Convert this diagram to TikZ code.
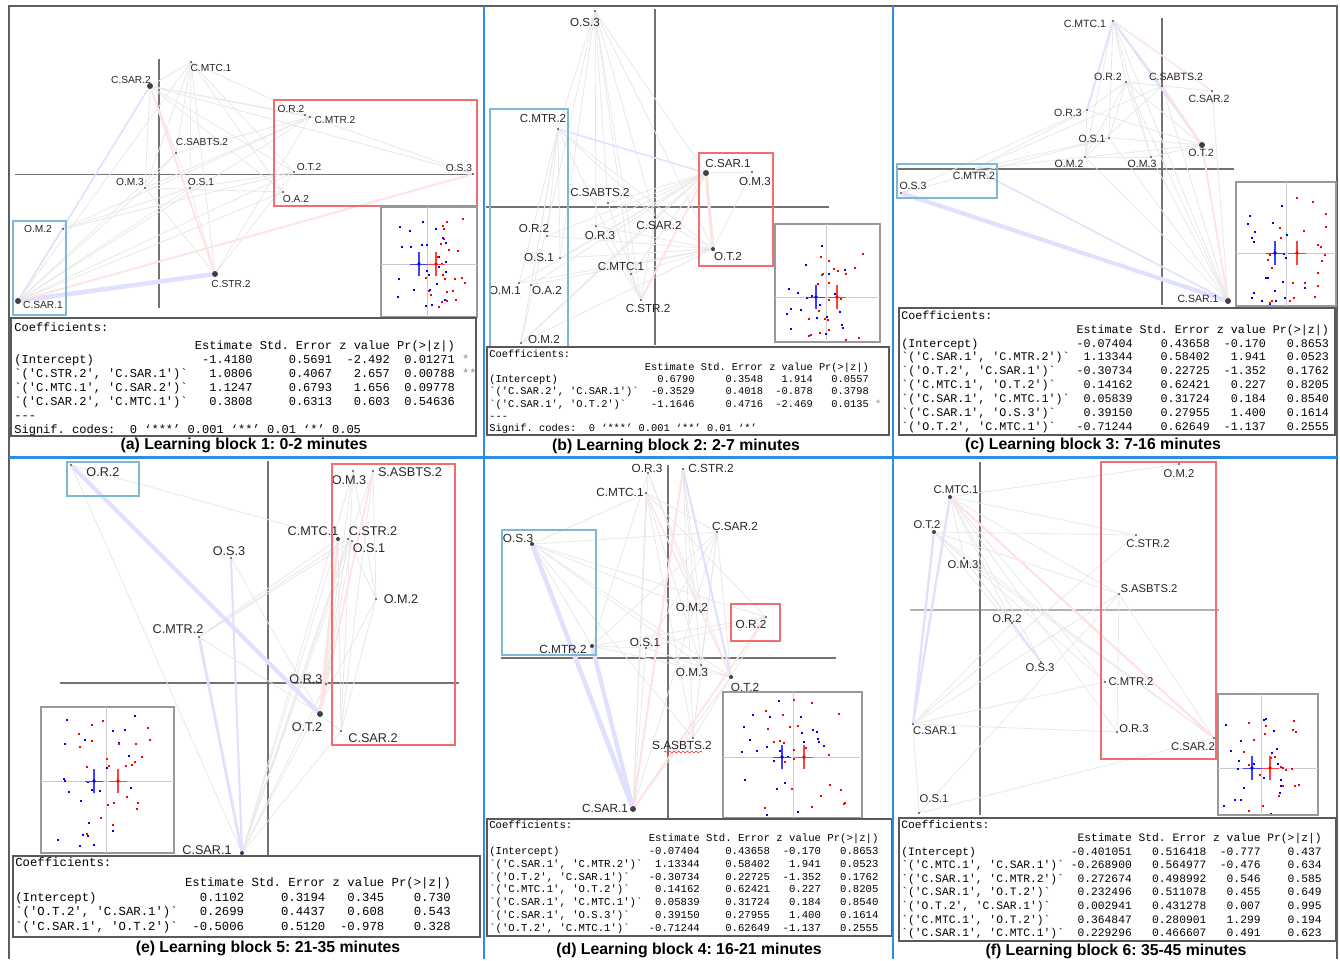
\documentclass[tikz,border=0pt]{standalone}
\usepackage{fontspec}
\setmainfont{Liberation Sans}
\setmonofont{Liberation Mono}
\usepackage{array}
\usetikzlibrary{backgrounds}
\usetikzlibrary{decorations.pathmorphing}
\frenchspacing
\newcolumntype{R}{@{\hspace{.6em}}r}
\newcolumntype{Q}{@{}lRRRR@{\hspace{.6em}}l@{}}
\definecolor{sepblue}{RGB}{45,140,230}
\definecolor{boxred}{RGB}{240,110,110}
\definecolor{boxblue}{RGB}{125,185,215}
\definecolor{framegray}{RGB}{95,95,95}
\tikzset{
  axisline/.style={draw=black!55, line width=0.6pt},
  edgeline/.style={draw=black!9, line width=0.45pt},
  lavlink/.style={draw=blue!12, line width=#1},
  pinklink/.style={draw=red!11, line width=#1},
  smalldot/.style={circle, fill=black!70, inner sep=0pt, minimum size=1.2pt},
  middot/.style={circle, fill=black!75, inner sep=0pt, minimum size=2.3pt},
  bigdot/.style={circle, fill=black!75, inner sep=0pt, minimum size=3.4pt},
  lblsize/.style={lbl/.style={font=\fontsize{#1}{#1}\selectfont, inner sep=0pt, text=black!85}},
  redbox/.style={draw=boxred, line width=0.7pt},
  bluebox/.style={draw=boxblue, line width=0.7pt},
  tabframe/.style={draw=black!65, line width=0.6pt, fill=white},
  coeftab/.style 2 args={font=\ttfamily\fontsize{#1}{#2}\selectfont, inner sep=0pt, anchor=north west},
  subcap/.style={font=\bfseries\fontsize{9}{10}\selectfont, inner sep=0pt},
}
% inset: corners, cross height, blue x, red x, seed
\newcommand{\insetplot}[8]{%
  \draw[black!40, line width=0.7pt, fill=white] (#1,#2) rectangle (#3,#4);
  \draw[black!20, line width=0.5pt] ({(#6+#7)/2},#2) -- ({(#6+#7)/2},#4) (#1,#5) -- (#3,#5);
  \begin{scope}
    \clip (#1+2,#2+2) rectangle (#3-2,#4-2);
    \pgfmathsetseed{#8}
    \foreach \k in {1,...,24}{
      \pgfmathsetmacro{\px}{#6+0.3*(#3-#1)*rand}
      \pgfmathsetmacro{\py}{#5+0.46*(#4-#2)*rand}
      \fill[blue] (\px,\py) rectangle ++(2,2);
      \pgfmathsetmacro{\qx}{#7+0.3*(#3-#1)*rand}
      \pgfmathsetmacro{\qy}{#5+0.46*(#4-#2)*rand}
      \fill[red] (\qx,\qy) rectangle ++(2,2);
    }
  \end{scope}
  \draw[blue!75, line width=0.9pt] (#6,#5-12) -- (#6,#5+12);
  \draw[blue!75, line width=0.5pt] (#6-9,#5) -- (#6+9,#5);
  \draw[red!75, line width=0.9pt] (#7,#5-12) -- (#7,#5+12);
  \draw[red!75, line width=0.5pt] (#7-9,#5) -- (#7+9,#5);
  \fill[blue] (#6,#5) circle (1.8);
  \fill[red] (#7,#5) circle (1.8);
}
\newcommand{\coefhead}{\multicolumn{6}{@{}l@{}}{Coefficients:}}
\newcommand{\colhead}{ & Estimate & Std.~Error & z~value & Pr(>|z|) & }
\newcommand{\coefcd}{%
(Intercept) & -0.07404 & 0.43658 & -0.170 & 0.8653\\
`('C.SAR.1',~'C.MTR.2')` & 1.13344 & 0.58402 & 1.941 & 0.0523\\
`('O.T.2',~'C.SAR.1')` & -0.30734 & 0.22725 & -1.352 & 0.1762\\
`('C.MTC.1',~'O.T.2')` & 0.14162 & 0.62421 & 0.227 & 0.8205\\
`('C.SAR.1',~'C.MTC.1')` & 0.05839 & 0.31724 & 0.184 & 0.8540\\
`('C.SAR.1',~'O.S.3')` & 0.39150 & 0.27955 & 1.400 & 0.1614\\
`('O.T.2',~'C.MTC.1')` & -0.71244 & 0.62649 & -1.137 & 0.2555}

\begin{document}
\begin{tikzpicture}[x=0.02cm, y=-0.02cm]
\useasboundingbox (0,0) rectangle (1340,961);
\draw[framegray, line width=0.8pt] (9,959) -- (9,6) -- (1337,6) -- (1337,959);

% (a) learning block 1
\begin{scope}[lblsize=5.8]
\node[bigdot] (a-sar2) at (150,86) {};
\node[smalldot] (a-mtc1) at (191,62) {};
\node[smalldot] (a-sabts) at (176,153) {};
\node[smalldot] (a-or2) at (305,115) {};
\node[smalldot] (a-mtr2) at (310,117) {};
\node[smalldot] (a-ot2) at (294,172) {};
\node[smalldot] (a-os3) at (473,174) {};
\node[smalldot] (a-om3) at (145,188) {};
\node[smalldot] (a-os1) at (190,188) {};
\node[smalldot] (a-oa2) at (283,192) {};
\node[smalldot] (a-om2) at (63,229) {};
\node[bigdot] (a-str2) at (215,274) {};
\node[bigdot] (a-sar1) at (18,301) {};
\begin{scope}[on background layer]
\draw[axisline] (15,174.5) -- (473,174.5);
\draw[axisline] (159,59) -- (159,308);
\foreach \u/\v in {sar1/sar2,sar1/mtc1,sar1/sabts,sar1/om3,sar1/os1,sar1/mtr2,sar1/ot2,sar1/oa2,sar1/om2,
  sar2/mtc1,sar2/om3,sar2/os1,sar2/mtr2,sar2/or2,sar2/ot2,sar2/os3,sar2/oa2,sar2/sabts,
  mtc1/om3,mtc1/os1,mtc1/str2,mtc1/ot2,mtc1/mtr2,mtc1/sabts,mtc1/oa2,str2/mtr2,str2/ot2,str2/om3,str2/os1,
  om2/mtr2,om2/ot2,om2/os1,om3/oa2,om3/mtr2,om3/sabts,os1/ot2,or2/os3,sabts/mtr2}
  \draw[edgeline] (a-\u) -- (a-\v);
\draw[lavlink=2.6pt] (a-sar1) -- (a-str2);
\draw[lavlink=0.9pt] (a-sar1) -- (a-sar2);
\draw[pinklink=1.1pt] (a-sar1) -- (a-os3);
\draw[pinklink=1.1pt] (a-sar2) -- (a-str2);
\end{scope}
\node[lbl] (a-sar2-t) at (131,80) {C.SAR.2};
\node[lbl] (a-mtc1-t) at (211,68) {C.MTC.1};
\node[lbl] (a-sabts-t) at (202,142) {C.SABTS.2};
\node[lbl] (a-or2-t) at (291,109) {O.R.2};
\node[lbl] (a-mtr2-t) at (335,120) {C.MTR.2};
\node[lbl] (a-ot2-t) at (309,167) {O.T.2};
\node[lbl] (a-os3-t) at (459,168) {O.S.3};
\node[lbl] (a-om3-t) at (130,182) {O.M.3};
\node[lbl] (a-os1-t) at (201,182) {O.S.1};
\node[lbl] (a-oa2-t) at (296,199) {O.A.2};
\node[lbl] (a-om2-t) at (38,229) {O.M.2};
\node[lbl] (a-str2-t) at (231,284) {C.STR.2};
\node[lbl] (a-sar1-t) at (43,305) {C.SAR.1};
\draw[redbox] (274,100) rectangle (477,206);
\draw[bluebox] (13,221) rectangle (66,315);
\insetplot{381}{207}{477}{317}{264}{419}{436}{11}
\draw[tabframe] (11,318) rectangle (476,436);
\node[coeftab={6.85}{7.95}] (a-tab) at (14,321) {\begin{tabular}{Q}
\coefhead\\[2.5pt]
\colhead\\
(Intercept) & -1.4180 & 0.5691 & -2.492 & 0.01271 & \textcolor{black!45}{*}\\
`('C.STR.2',~'C.SAR.1')` & 1.0806 & 0.4067 & 2.657 & 0.00788 & \textcolor{black!45}{**}\\
`('C.MTC.1',~'C.SAR.2')` & 1.1247 & 0.6793 & 1.656 & 0.09778 & \\
`('C.SAR.2',~'C.MTC.1')` & 0.3808 & 0.6313 & 0.603 & 0.54636 & \\
\multicolumn{6}{@{}l@{}}{---}\\
\multicolumn{6}{@{}l@{}}{Signif.~codes:~~0~‘***’~0.001~‘**’~0.01~‘*’~0.05}
\end{tabular}};
\node[subcap] (a-cap) at (244,445) {(a) Learning block 1: 0-2 minutes};
\end{scope}

% (b) learning block 2
\begin{scope}[lblsize=6.6]
\node[smalldot] (b-os3) at (595,11) {};
\node[smalldot] (b-mtr2) at (558,129) {};
\node[bigdot] (b-sar1) at (706,173) {};
\node[smalldot] (b-om3) at (752,172) {};
\node[smalldot] (b-sabts) at (608,203) {};
\node[smalldot] (b-or2) at (547,236) {};
\node[smalldot] (b-or3) at (596,226) {};
\node[smalldot] (b-sar2) at (655,217) {};
\node[middot] (b-ot2) at (713,249) {};
\node[smalldot] (b-os1) at (560,258) {};
\node[smalldot] (b-om1) at (519,283) {};
\node[smalldot] (b-oa2) at (531,285) {};
\node[smalldot] (b-mtc1) at (631,274) {};
\node[smalldot] (b-str2) at (641,300) {};
\node[smalldot] (b-om2) at (521,343) {};
\begin{scope}[on background layer]
\draw[axisline] (486,207) -- (829,207);
\draw[axisline] (655,9) -- (655,345);
\foreach \u/\v in {os3/mtr2,os3/sabts,os3/sar2,os3/sar1,os3/mtc1,os3/str2,os3/or3,os3/os1,os3/om2,os3/ot2,
  mtr2/or2,mtr2/os1,mtr2/om1,mtr2/oa2,mtr2/om2,mtr2/str2,mtr2/sar2,mtr2/ot2,
  sar1/sar2,sar1/om3,sar1/sabts,sar1/or2,sar1/or3,sar1/os1,sar1/om1,sar1/oa2,sar1/mtc1,
  ot2/sar2,ot2/or3,ot2/or2,ot2/om1,ot2/os1,ot2/oa2,ot2/mtc1,ot2/om3,
  str2/mtc1,str2/sabts,str2/or3,str2/sar2,om2/sar2,om2/ot2,om2/sar1}
  \draw[edgeline] (b-\u) -- (b-\v);
\draw[pinklink=1.8pt] (b-sar1) -- (b-ot2);
\draw[lavlink=0.9pt] (b-mtr2) -- (b-sar1);
\draw[pinklink=1.1pt] (b-str2) -- (b-sar1);
\end{scope}
\node[lbl] (b-os3-t) at (585,23) {O.S.3};
\node[lbl] (b-mtr2-t) at (543,119) {C.MTR.2};
\node[lbl] (b-sar1-t) at (728,164) {C.SAR.1};
\node[lbl] (b-om3-t) at (755,182) {O.M.3};
\node[lbl] (b-sabts-t) at (600,193) {C.SABTS.2};
\node[lbl] (b-or2-t) at (534,229) {O.R.2};
\node[lbl] (b-or3-t) at (600,236) {O.R.3};
\node[lbl] (b-sar2-t) at (659,226) {C.SAR.2};
\node[lbl] (b-ot2-t) at (728,257) {O.T.2};
\node[lbl] (b-os1-t) at (539,258) {O.S.1};
\node[lbl] (b-om1-t) at (505,291) {O.M.1};
\node[lbl] (b-oa2-t) at (547,291) {O.A.2};
\node[lbl] (b-mtc1-t) at (621,267) {C.MTC.1};
\node[lbl] (b-str2-t) at (648,308) {C.STR.2};
\node[lbl] (b-om2-t) at (544,340) {O.M.2};
\draw[redbox] (699,153) rectangle (773,266);
\draw[bluebox] (490,109) rectangle (568,347);
\insetplot{775}{224}{880}{342}{297}{816}{837}{22}
\draw[tabframe] (487,347) rectangle (889,435);
\node[coeftab={5.9}{7}] (b-tab) at (489,349) {\begin{tabular}{Q}
\coefhead\\
\colhead\\
(Intercept) & 0.6790 & 0.3548 & 1.914 & 0.0557 & \\
`('C.SAR.2',~'C.SAR.1')` & -0.3529 & 0.4018 & -0.878 & 0.3798 & \\
`('C.SAR.1',~'O.T.2')` & -1.1646 & 0.4716 & -2.469 & 0.0135 & \textcolor{black!45}{*}\\
\multicolumn{6}{@{}l@{}}{---}\\
\multicolumn{6}{@{}l@{}}{Signif.~codes:~~0~‘***’~0.001~‘**’~0.01~‘*’}
\end{tabular}};
\node[subcap] (b-cap) at (676,446) {(b) Learning block 2: 2-7 minutes};
\end{scope}

% (c) learning block 3
\begin{scope}[lblsize=6]
\node[smalldot] (c-mtc1) at (1113,21) {};
\node[smalldot] (c-or2) at (1126,82) {};
\node[smalldot] (c-sabts) at (1162,86) {};
\node[smalldot] (c-sar2) at (1212,91) {};
\node[smalldot] (c-or3) at (1087,110) {};
\node[smalldot] (c-os1) at (1109,138) {};
\node[bigdot] (c-ot2) at (1202,145) {};
\node[smalldot] (c-om2) at (1085,157) {};
\node[smalldot] (c-om3) at (1151,157) {};
\node[smalldot] (c-mtr2) at (974,169) {};
\node[smalldot] (c-os3) at (901,193) {};
\node[bigdot] (c-sar1) at (1228,301) {};
\begin{scope}[on background layer]
\draw[axisline] (896,169) -- (1234,169);
\draw[axisline] (1162,18) -- (1162,305);
\foreach \u/\v in {mtc1/os1,mtc1/om2,mtc1/om3,mtc1/sar1,mtc1/sabts,mtc1/or2,
  or2/or3,or2/os1,or2/sabts,or2/om2,or2/ot2,or2/om3,or2/sar2,
  sar1/sar2,sar1/om3,sar1/om2,sar1/os1,sar1/sabts,sar1/or2,
  ot2/or3,ot2/os1,ot2/om2,ot2/om3,mtr2/or3,mtr2/os1,mtr2/om2,mtr2/sabts,
  os3/or3,os3/os1,om2/om3,om2/or3,om2/sabts}
  \draw[edgeline] (c-\u) -- (c-\v);
\draw[lavlink=2.4pt] (c-os3) -- (c-sar1);
\draw[lavlink=1.2pt] (c-mtc1) -- (c-ot2);
\draw[lavlink=1.1pt] (c-mtc1) -- (c-or3);
\draw[lavlink=0.9pt] (c-sar1) -- (c-mtr2);
\draw[pinklink=1.2pt] (c-sabts) -- (c-ot2);
\draw[pinklink=1pt] (c-sar1) -- (c-ot2);
\draw[pinklink=0.8pt] (c-mtc1) -- (c-sar2);
\end{scope}
\node[lbl] (c-mtc1-t) at (1085,24) {C.MTC.1};
\node[lbl] (c-or2-t) at (1108,77) {O.R.2};
\node[lbl] (c-sabts-t) at (1176,77) {C.SABTS.2};
\node[lbl] (c-sar2-t) at (1209,99) {C.SAR.2};
\node[lbl] (c-or3-t) at (1068,113) {O.R.3};
\node[lbl] (c-os1-t) at (1092,139) {O.S.1};
\node[lbl] (c-ot2-t) at (1201,153) {O.T.2};
\node[lbl] (c-om2-t) at (1069,164) {O.M.2};
\node[lbl] (c-om3-t) at (1142,164) {O.M.3};
\node[lbl] (c-mtr2-t) at (974,176) {C.MTR.2};
\node[lbl] (c-os3-t) at (913,186) {O.S.3};
\node[lbl] (c-sar1-t) at (1198,299) {C.SAR.1};
\draw[bluebox] (897,164) rectangle (997,198);
\insetplot{1236}{182}{1336}{306}{253}{1275}{1297}{33}
\draw[tabframe] (899,308) rectangle (1335,435);
\node[coeftab={6.65}{7.94}] (c-tab) at (901,309) {\begin{tabular}{Q}
\coefhead\\
\colhead\\
\coefcd
\end{tabular}};
\node[subcap] (c-cap) at (1093,445) {(c) Learning block 3: 7-16 minutes};
\end{scope}

% (e) learning block 5
\begin{scope}[lblsize=7.2]
\node[smalldot] (e-or2) at (71,465) {};
\node[smalldot] (e-om3) at (353,471) {};
\node[smalldot] (e-sasb) at (373,471) {};
\node[middot] (e-mtc1) at (338,539) {};
\node[smalldot] (e-str2) at (348,539) {};
\node[smalldot] (e-os1) at (352,541) {};
\node[smalldot] (e-os3) at (231,558) {};
\node[smalldot] (e-om2) at (376,599) {};
\node[smalldot] (e-mtr2) at (199,637) {};
\node[smalldot] (e-or3) at (326,684) {};
\node[bigdot] (e-ot2) at (320,714) {};
\node[smalldot] (e-sar2) at (341,731) {};
\node[middot] (e-sar1) at (242,853) {};
\begin{scope}[on background layer]
\draw[axisline] (60,683) -- (459,683);
\draw[axisline] (268,461) -- (268,855);
\foreach \u/\v in {or2/mtc1,or2/sar1,os3/ot2,mtr2/mtc1,mtr2/os1,mtr2/ot2,mtr2/str2,
  sar1/mtc1,sar1/str2,sar1/os1,sar1/om3,sar1/sasb,sar1/sar2,sar1/om2,sar1/or3,
  ot2/om3,ot2/str2,ot2/os1,ot2/sar2,sar2/om3,sar2/sasb,sar2/mtc1,sar2/om2,om2/sasb,om2/str2,om2/om3}
  \draw[edgeline] (e-\u) -- (e-\v);
\draw[lavlink=2.4pt] (e-or2) -- (e-ot2);
\draw[lavlink=1.6pt] (e-mtr2) -- (e-sar1);
\draw[lavlink=1.2pt] (e-os3) -- (e-sar1);
\draw[pinklink=1.5pt] (e-ot2) -- (e-mtc1);
\draw[pinklink=1pt] (e-sasb) -- (e-ot2);
\end{scope}
\node[lbl] (e-or2-t) at (103,472) {O.R.2};
\node[lbl] (e-om3-t) at (349,480) {O.M.3};
\node[lbl] (e-sasb-t) at (410,472) {S.ASBTS.2};
\node[lbl] (e-mtc1-t) at (313,531) {C.MTC.1};
\node[lbl] (e-str2-t) at (373,531) {C.STR.2};
\node[lbl] (e-os1-t) at (369,548) {O.S.1};
\node[lbl] (e-os3-t) at (229,551) {O.S.3};
\node[lbl] (e-om2-t) at (401,599) {O.M.2};
\node[lbl] (e-mtr2-t) at (178,629) {C.MTR.2};
\node[lbl] (e-or3-t) at (306,679) {O.R.3};
\node[lbl] (e-ot2-t) at (307,727) {O.T.2};
\node[lbl] (e-sar2-t) at (373,738) {C.SAR.2};
\node[lbl] (e-sar1-t) at (207,850) {C.SAR.1};
\draw[bluebox] (67,462) rectangle (139,496);
\draw[redbox] (332,464) rectangle (455,745);
\insetplot{41}{707}{174}{853}{781}{94}{118}{44}
\draw[tabframe] (13,856) rectangle (480,937);
\node[coeftab={7}{8.3}] (e-tab) at (15,856) {\begin{tabular}{Q}
\coefhead\\[3pt]
\colhead\\
(Intercept) & 0.1102 & 0.3194 & 0.345 & 0.730\\
`('O.T.2',~'C.SAR.1')` & 0.2699 & 0.4437 & 0.608 & 0.543\\
`('C.SAR.1',~'O.T.2')` & -0.5006 & 0.5120 & -0.978 & 0.328
\end{tabular}};
\node[subcap] (e-cap) at (268,948) {(e) Learning block 5: 21-35 minutes};
\end{scope}

% (d) learning block 4
\begin{scope}[lblsize=6.7]
\node[smalldot] (d-or3) at (648,473) {};
\node[smalldot] (d-str2) at (683,469) {};
\node[smalldot] (d-mtc1) at (646,493) {};
\node[smalldot] (d-sar2) at (717,532) {};
\node[middot] (d-os3) at (532,544) {};
\node[smalldot] (d-om2) at (701,612) {};
\node[smalldot] (d-or2) at (766,617) {};
\node[middot] (d-mtr2) at (592,646) {};
\node[smalldot] (d-os1) at (646,648) {};
\node[smalldot] (d-om3) at (701,665) {};
\node[middot] (d-ot2) at (731,677) {};
\node[smalldot] (d-sasb) at (693,738) {};
\node[bigdot] (d-sar1) at (633,809) {};
\begin{scope}[on background layer]
\draw[axisline] (501,658) -- (836,658);
\draw[axisline] (668,465) -- (668,818);
\foreach \u/\v in {os3/mtc1,os3/sar2,os3/or2,os3/ot2,os3/om3,os3/sasb,os3/om2,os3/mtr2,
  mtr2/sar2,mtr2/or3,mtr2/ot2,mtr2/or2,mtr2/os1,mtc1/sar1,mtc1/or2,mtc1/sasb,mtc1/om3,mtc1/sar2,
  str2/om2,str2/om3,str2/sasb,sar2/sar1,sar2/sasb,sar2/os1,sar2/ot2,sar2/om3,
  or2/ot2,or2/os1,or3/sar1,or3/ot2,or3/om2,ot2/sar1,ot2/sasb,os1/sar1,os1/ot2}
  \draw[edgeline] (d-\u) -- (d-\v);
\draw[lavlink=2.6pt] (d-os3) -- (d-sar1);
\draw[lavlink=2.4pt] (d-mtr2) -- (d-sar1);
\draw[lavlink=1.2pt] (d-str2) -- (d-ot2);
\draw[pinklink=1.2pt] (d-sar1) -- (d-str2);
\draw[pinklink=1pt] (d-or2) -- (d-sar1);
\draw[pinklink=0.8pt] (d-mtc1) -- (d-ot2);
\end{scope}
\node[lbl] (d-or3-t) at (647,468) {O.R.3};
\node[lbl] (d-str2-t) at (711,468) {C.STR.2};
\node[lbl] (d-mtc1-t) at (620,492) {C.MTC.1};
\node[lbl] (d-sar2-t) at (735,526) {C.SAR.2};
\node[lbl] (d-os3-t) at (518,538) {O.S.3};
\node[lbl] (d-om2-t) at (692,607) {O.M.2};
\node[lbl] (d-or2-t) at (751,624) {O.R.2};
\node[lbl] (d-mtr2-t) at (563,649) {C.MTR.2};
\node[lbl] (d-os1-t) at (645,642) {O.S.1};
\node[lbl] (d-om3-t) at (692,672) {O.M.3};
\node[lbl] (d-ot2-t) at (745,687) {O.T.2};
\node[lbl] (d-sasb-t) at (682,745) {S.ASBTS.2};
\node[lbl] (d-sar1-t) at (605,808) {C.SAR.1};
\draw[red!80, line width=0.35pt, decorate, decoration={snake, amplitude=0.5pt, segment length=2.5pt}] (664,752) -- (702,752);
\draw[bluebox] (502,530) rectangle (596,655);
\draw[redbox] (731,604) rectangle (780,641);
\insetplot{723}{692}{862}{818}{757}{782}{804}{55}
\draw[tabframe] (487,819) rectangle (892,936);
\node[coeftab={6.05}{7.3}] (d-tab) at (489,819.5) {\begin{tabular}{Q}
\coefhead\\
\colhead\\
\coefcd
\end{tabular}};
\node[subcap] (d-cap) at (689,950) {(d) Learning block 4: 16-21 minutes};
\end{scope}

% (f) learning block 6
\begin{scope}[lblsize=6.4]
\node[middot] (f-mtc1) at (950,497) {};
\node[middot] (f-ot2) at (934,532) {};
\node[smalldot] (f-om3) at (964,558) {};
\node[smalldot] (f-om2) at (1179,464) {};
\node[smalldot] (f-str2) at (1136,535) {};
\node[smalldot] (f-sasb) at (1119,594) {};
\node[smalldot] (f-or2) at (1012,623) {};
\node[smalldot] (f-os3) at (1041,662) {};
\node[smalldot] (f-mtr2) at (1105,682) {};
\node[smalldot] (f-sar1) at (913,724) {};
\node[smalldot] (f-or3) at (1117,732) {};
\node[smalldot] (f-sar2) at (1214,738) {};
\node[smalldot] (f-os1) at (919,813) {};
\begin{scope}[on background layer]
\draw[axisline, draw=black!30] (910,610) -- (1219,610);
\draw[axisline] (980,462) -- (980,815);
\foreach \u/\v in {mtc1/om2,mtc1/str2,mtc1/sasb,mtc1/mtr2,mtc1/or3,mtc1/os3,mtc1/or2,mtc1/om3,
  ot2/str2,ot2/sasb,ot2/mtr2,ot2/sar2,ot2/os3,ot2/om3,om3/or2,om3/os3,om3/sar2,
  sar1/str2,sar1/sasb,sar1/mtr2,sar1/or3,sar1/or2,sasb/or3,sasb/sar2,os1/sar2,os1/sasb,os1/sar1}
  \draw[edgeline] (f-\u) -- (f-\v);
\draw[lavlink=1.3pt] (f-mtc1) -- (f-sar1);
\draw[lavlink=1.3pt] (f-ot2) -- (f-sar1);
\draw[lavlink=1pt] (f-or2) -- (f-os3);
\draw[pinklink=1.3pt] (f-mtc1) -- (f-sar2);
\end{scope}
\node[lbl] (f-mtc1-t) at (956,490) {C.MTC.1};
\node[lbl] (f-ot2-t) at (927,525) {O.T.2};
\node[lbl] (f-om3-t) at (963,565) {O.M.3};
\node[lbl] (f-om2-t) at (1179,474) {O.M.2};
\node[lbl] (f-str2-t) at (1148,544) {C.STR.2};
\node[lbl] (f-sasb-t) at (1149,589) {S.ASBTS.2};
\node[lbl] (f-or2-t) at (1007,619) {O.R.2};
\node[lbl] (f-os3-t) at (1040,668) {O.S.3};
\node[lbl] (f-mtr2-t) at (1131,682) {C.MTR.2};
\node[lbl] (f-sar1-t) at (935,731) {C.SAR.1};
\node[lbl] (f-or3-t) at (1134,729) {O.R.3};
\node[lbl] (f-sar2-t) at (1193,747) {C.SAR.2};
\node[lbl] (f-os1-t) at (934,799) {O.S.1};
\draw[redbox] (1101,462) rectangle (1216,759);
\insetplot{1218}{694}{1318}{815}{768}{1252}{1270}{66}
\draw[tabframe] (899,818) rectangle (1336,941);
\node[coeftab={6.43}{7.7}] (f-tab) at (901,818.5) {\begin{tabular}{Q}
\coefhead\\
\colhead\\
(Intercept) & -0.401051 & 0.516418 & -0.777 & 0.437\\
`('C.MTC.1',~'C.SAR.1')` & -0.268900 & 0.564977 & -0.476 & 0.634\\
`('C.SAR.1',~'C.MTR.2')` & 0.272674 & 0.498992 & 0.546 & 0.585\\
`('C.SAR.1',~'O.T.2')` & 0.232496 & 0.511078 & 0.455 & 0.649\\
`('O.T.2',~'C.SAR.1')` & 0.002941 & 0.431278 & 0.007 & 0.995\\
`('C.MTC.1',~'O.T.2')` & 0.364847 & 0.280901 & 1.299 & 0.194\\
`('C.SAR.1',~'C.MTC.1')` & 0.229296 & 0.466607 & 0.491 & 0.623
\end{tabular}};
\node[subcap] (f-cap) at (1116,951) {(f) Learning block 6: 35-45 minutes};
\end{scope}

\draw[sepblue, line width=1.3pt] (9,457.5) -- (1337,457.5);
\draw[sepblue, line width=1.3pt] (484,6) -- (484,959);
\draw[sepblue, line width=1.3pt] (893,6) -- (893,959);
\end{tikzpicture}
\end{document}
